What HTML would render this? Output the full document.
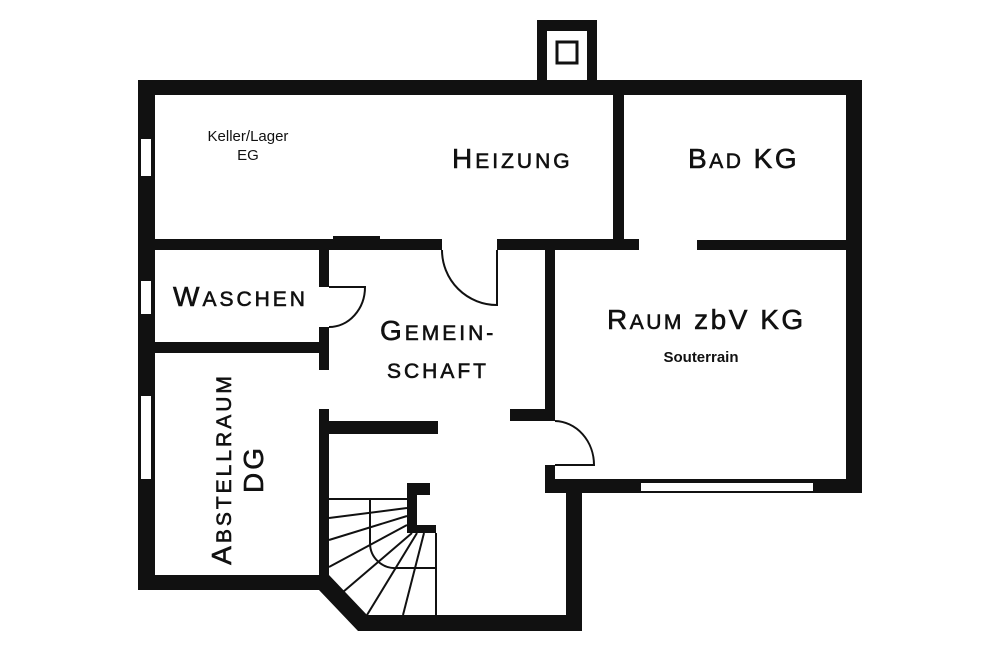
<!DOCTYPE html>
<html><head><meta charset="utf-8"><style>
html,body{margin:0;padding:0;background:#fff;width:1000px;height:667px;overflow:hidden}
svg{display:block}
text{font-family:"Liberation Sans",Arial,sans-serif;fill:#111}
.l{font-size:28px;letter-spacing:3px}
.s{font-size:21px}
</style></head><body>
<svg width="1000" height="667" viewBox="0 0 1000 667" xmlns="http://www.w3.org/2000/svg">
<g fill="#111" stroke="none">
<rect x="537" y="20" width="60" height="62"/>
<rect x="547" y="31" width="40" height="51" fill="#fff"/>
<rect x="557" y="42" width="20" height="21" fill="none" stroke="#111" stroke-width="3"/>
<rect x="138" y="80" width="724" height="15"/>
<rect x="138" y="80" width="17" height="510"/>
<rect x="846" y="80" width="16" height="413"/>
<rect x="613" y="95" width="11" height="150"/>
<rect x="155" y="239" width="287" height="11"/>
<rect x="333" y="236" width="47" height="14"/>
<rect x="497" y="239" width="142" height="11"/>
<rect x="557" y="239" width="52" height="11"/>
<rect x="697" y="240" width="149" height="10"/>
<rect x="545" y="250" width="10" height="171"/>
<rect x="510" y="409" width="45" height="12"/>
<rect x="545" y="465" width="10" height="28"/>
<rect x="545" y="479" width="317" height="14"/>
<rect x="566" y="479" width="16" height="152"/>
<rect x="358" y="615" width="224" height="16"/>
<polygon points="138,575 329,575 367,615 367,631 358,631 319,590 138,590"/>
<rect x="319" y="250" width="10" height="37"/>
<rect x="319" y="327" width="10" height="43"/>
<rect x="155" y="342" width="174" height="11"/>
<rect x="319" y="409" width="10" height="181"/>
<rect x="329" y="421" width="109" height="13"/>
<rect x="407" y="483" width="23" height="12"/>
<rect x="407" y="483" width="10" height="50"/>
<rect x="407" y="525" width="29" height="8"/>
</g>
<g fill="#fff" stroke="#111" stroke-width="2">
<rect x="140" y="138" width="12" height="39"/>
<rect x="140" y="280" width="12" height="35"/>
<rect x="140" y="395" width="12" height="85"/>
<rect x="640" y="482" width="174" height="10"/>
</g>
<g fill="none" stroke="#111" stroke-width="2">
<path d="M442,250 A55,55 0 0 0 497,305 L497,250"/>
<path d="M329,287 L365,287 A36,40 0 0 1 329,327"/>
<path d="M555,421 A40,44 0 0 1 594,465 L555,465"/>
<line x1="329" y1="499" x2="407" y2="499"/>
<path d="M370,499 L370,543 A25,25 0 0 0 397,568 L436,568"/>
<line x1="436" y1="533" x2="436" y2="615"/>
<line x1="407" y1="508" x2="329" y2="518"/>
<line x1="407" y1="516" x2="329" y2="540"/>
<line x1="407" y1="525" x2="329" y2="567"/>
<line x1="412" y1="533" x2="343" y2="592"/>
<line x1="417" y1="533" x2="367" y2="615"/>
<line x1="424" y1="533" x2="403" y2="615"/>
</g>
<g stroke="#111" stroke-width="0.6">
<text x="248" y="141" font-size="15" text-anchor="middle" stroke="none">Keller/Lager</text>
<text x="248" y="160" font-size="15" text-anchor="middle" stroke="none">EG</text>
<text x="452" y="168" class="l">H<tspan class="s">EIZUNG</tspan></text>
<text x="688" y="168" class="l" style="letter-spacing:2.5px">B<tspan class="s">AD</tspan> KG</text>
<text x="173" y="306" class="l">W<tspan class="s">ASCHEN</tspan></text>
<text x="380" y="340" class="l">G<tspan class="s">EMEIN-</tspan></text>
<text x="387" y="378" class="s" style="letter-spacing:3px">SCHAFT</text>
<text x="607" y="329" class="l" style="letter-spacing:2.5px">R<tspan class="s">AUM</tspan> zbV KG</text>
<text x="701" y="362" font-size="15" font-weight="bold" text-anchor="middle" stroke="none">Souterrain</text>
<text transform="translate(231,469) rotate(-90)" text-anchor="middle" class="l">A<tspan class="s">BSTELLRAUM</tspan></text>
<text transform="translate(263,469) rotate(-90)" text-anchor="middle" class="l">DG</text>
</g>
</svg>
</body></html>
